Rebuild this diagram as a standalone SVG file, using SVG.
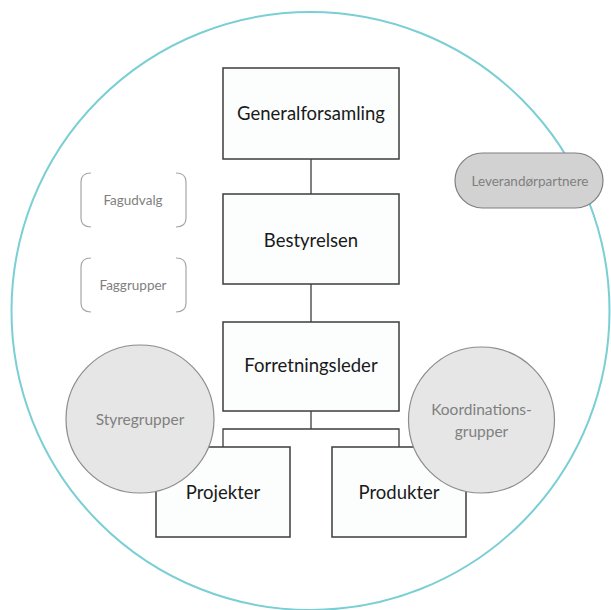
<svg xmlns="http://www.w3.org/2000/svg" width="611" height="610" viewBox="0 0 611 610">
<style>
.box{fill:#fcfefe;stroke:#3c3c3c;stroke-width:1.5}
.lbl{font-family:Lato,"Open Sans",sans-serif;font-size:18.5px;fill:#1a1a1a;text-anchor:middle;dominant-baseline:central}
.grp{fill:#e6e6e6;stroke:#8c8c8c;stroke-width:1.2}
.glbl{font-family:Lato,"Open Sans",sans-serif;font-size:15.5px;fill:#808080;text-anchor:middle;dominant-baseline:central}
.brk{fill:none;stroke:#a6a6a6;stroke-width:1.2}
.slbl{font-family:Lato,"Open Sans",sans-serif;font-size:13.5px;fill:#808080;text-anchor:middle;dominant-baseline:central}
.conn{fill:none;stroke:#3c3c3c;stroke-width:1.3}
</style>
<rect width="611" height="610" fill="#ffffff"/>
<circle id="outer" cx="310.5" cy="311" r="299" fill="none" stroke="#7acfd4" stroke-width="2"/>
<g id="connectors">
<line class="conn" x1="311" y1="159" x2="311" y2="194"/>
<line class="conn" x1="311" y1="284" x2="311" y2="322"/>
<polyline class="conn" points="311,411 311,429"/>
<polyline class="conn" points="223,447 223,429 399,429 399,447"/>
</g>
<g id="generalforsamling">
<rect class="box" x="223" y="68" width="176" height="91"/>
<text class="lbl" x="311" y="113">Generalforsamling</text>
</g>
<g id="bestyrelsen">
<rect class="box" x="223" y="194" width="176" height="90"/>
<text class="lbl" x="311" y="240">Bestyrelsen</text>
</g>
<g id="forretningsleder">
<rect class="box" x="223" y="322" width="176" height="89"/>
<text class="lbl" x="311" y="365">Forretningsleder</text>
</g>
<g id="projekter">
<rect class="box" x="156" y="447" width="134" height="90"/>
<text class="lbl" x="223" y="492">Projekter</text>
</g>
<g id="produkter">
<rect class="box" x="332" y="447" width="134" height="90"/>
<text class="lbl" x="399" y="492">Produkter</text>
</g>
<g id="styregrupper">
<circle class="grp" cx="140" cy="419" r="74"/>
<text class="glbl" x="140" y="419">Styregrupper</text>
</g>
<g id="koordinationsgrupper">
<circle class="grp" cx="481.5" cy="420" r="73"/>
<text class="glbl" x="481.5" y="409">Koordinations-</text>
<text class="glbl" x="481.5" y="431">grupper</text>
</g>
<g id="leverandorpartnere">
<rect x="455" y="153" width="148" height="55" rx="27.5" fill="#d2d2d2" stroke="#7f7f7f" stroke-width="1.2"/>
<text class="slbl" x="530" y="181">Leverandørpartnere</text>
</g>
<g id="fagudvalg">
<path class="brk" d="M91,173 Q81,173 81,182 L81,218 Q81,227 91,227 M176,173 Q186,173 186,182 L186,218 Q186,227 176,227"/>
<text class="slbl" x="133" y="200">Fagudvalg</text>
</g>
<g id="faggrupper">
<path class="brk" d="M91,258 Q81,258 81,267 L81,303 Q81,312 91,312 M176,258 Q186,258 186,267 L186,303 Q186,312 176,312"/>
<text class="slbl" x="133" y="285">Faggrupper</text>
</g>
</svg>
